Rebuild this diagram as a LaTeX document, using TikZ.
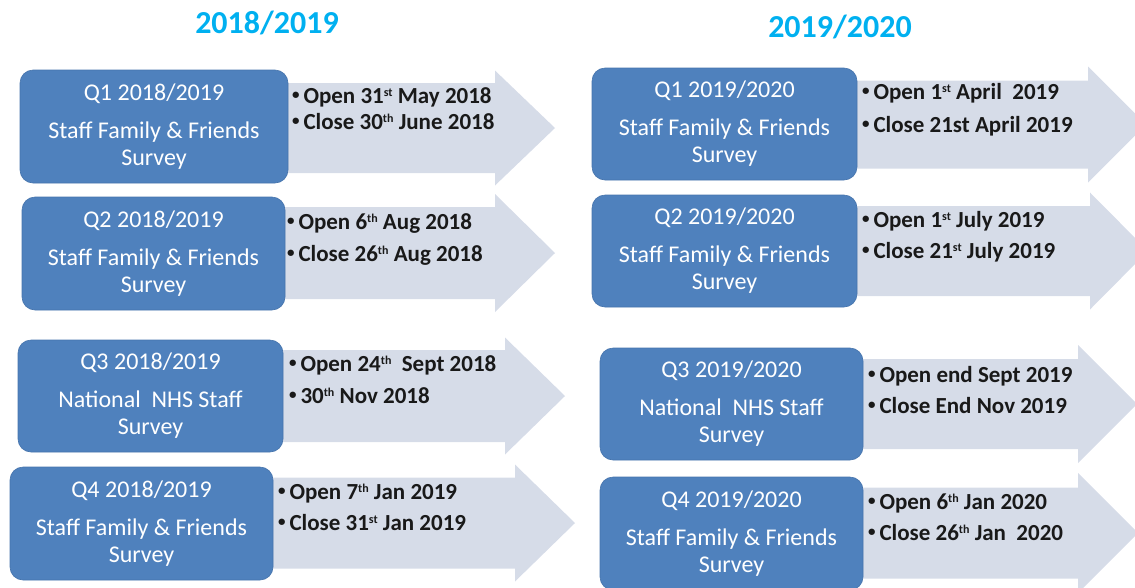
\documentclass[tikz,border=0pt]{standalone}
\usepackage{fontspec}
\setmainfont{Carlito}
\definecolor{boxblue}{RGB}{79,129,189}
\definecolor{boxedge}{RGB}{70,116,172}
\definecolor{arrowfill}{RGB}{214,220,232}
\definecolor{titlecyan}{RGB}{0,176,240}
\definecolor{datecol}{RGB}{25,25,25}

% block arrow: start x, centre y, body half height, head start x, head half height, tip x
\newcommand\blockarrow[6]{%
  \fill[arrowfill] (#1,#2-#3) -- (#4,#2-#3) -- (#4,#2-#5) -- (#6,#2)
    -- (#4,#2+#5) -- (#4,#2+#3) -- (#1,#2+#3) -- cycle;}
% small raised ordinal suffix
\newcommand\ordsup[1]{\raisebox{0.62ex}{\fontsize{12}{12}\selectfont #1}}
% small list bullet
\newcommand\smallbullet{\raisebox{0.28ex}{\fontsize{15}{15}\selectfont •}\,}

\begin{document}
\begin{tikzpicture}[x=1pt,y=-1pt,
  qbox/.style={fill=boxblue, draw=boxedge, line width=0.6pt, rounded corners=13pt,
    text=white, align=center, inner sep=0pt,
    font=\fontsize{24}{27}\selectfont},
  datetext/.style={anchor=base west, inner sep=0pt, text=datecol,
    font=\fontsize{23}{27}\selectfont\bfseries},
  yeartitle/.style={text=titlecyan, inner sep=0pt,
    font=\fontsize{32}{36}\selectfont\bfseries}]
\useasboundingbox (0,0) rectangle (1135,587);
\clip (0,0) rectangle (1135,587);

% column titles
\node[yeartitle] (t1) at (267,23) {2018/2019};
\node[yeartitle] (t2) at (840,27) {2019/2020};

% arrows behind the quarter boxes
\blockarrow{270}{128}{45}{495}{57.5}{555}
\blockarrow{270}{253}{46}{495}{59}{555}
\blockarrow{270}{396}{46}{505}{58.5}{565}
\blockarrow{260}{523}{45.5}{515}{58.5}{575}
\blockarrow{840}{124.5}{44}{1088}{58}{1146}
\blockarrow{840}{251}{45}{1090}{58.5}{1148}
\blockarrow{845}{404}{45}{1078}{59}{1137}
\blockarrow{845}{533}{45.5}{1078}{60}{1138}

% 2018/2019 quarters
\node[qbox, minimum width=268pt, minimum height=113pt] (l1) at (154,126.5)
  {Q1 2018/2019\\[11pt]Staff Family \& Friends\\Survey};
\node[qbox, minimum width=263pt, minimum height=113pt] (l2) at (153.5,253.5)
  {Q2 2018/2019\\[11pt]Staff Family \& Friends\\Survey};
\node[qbox, minimum width=265pt, minimum height=112pt] (l3) at (150.5,396)
  {Q3 2018/2019\\[11pt]National\ \ NHS Staff\\Survey};
\node[qbox, minimum width=263pt, minimum height=113pt] (l4) at (141.5,523.5)
  {Q4 2018/2019\\[11pt]Staff Family \& Friends\\Survey};

% 2019/2020 quarters
\node[qbox, minimum width=265pt, minimum height=112pt] (r1) at (724.5,124)
  {Q1 2019/2020\\[11pt]Staff Family \& Friends\\Survey};
\node[qbox, minimum width=265pt, minimum height=112pt] (r2) at (724.5,251)
  {Q2 2019/2020\\[11pt]Staff Family \& Friends\\Survey};
\node[qbox, minimum width=263pt, minimum height=112pt] (r3) at (731.5,404)
  {Q3 2019/2020\\[11pt]National\ \ NHS Staff\\Survey};
\node[qbox, minimum width=263pt, minimum height=113pt] (r4) at (731.5,533.5)
  {Q4 2019/2020\\[11pt]Staff Family \& Friends\\Survey};

% opening and closing dates
\node[datetext] (l1a) at (292,103) {\smallbullet Open 31\ordsup{st} May 2018};
\node[datetext] (l1b) at (292,129) {\smallbullet Close 30\ordsup{th} June 2018};
\node[datetext] (l2a) at (287,229) {\smallbullet Open 6\ordsup{th} Aug 2018};
\node[datetext] (l2b) at (287,261) {\smallbullet Close 26\ordsup{th} Aug 2018};
\node[datetext] (l3a) at (289,371) {\smallbullet Open 24\ordsup{th}\ \ Sept 2018};
\node[datetext] (l3b) at (289,403) {\smallbullet 30\ordsup{th} Nov 2018};
\node[datetext] (l4a) at (278,499) {\smallbullet Open 7\ordsup{th} Jan 2019};
\node[datetext] (l4b) at (278,530) {\smallbullet Close 31\ordsup{st} Jan 2019};

\node[datetext] (r1a) at (862,99) {\smallbullet Open 1\ordsup{st} April\ \ 2019};
\node[datetext] (r1b) at (862,132) {\smallbullet Close 21st April 2019};
\node[datetext] (r2a) at (862,227) {\smallbullet Open 1\ordsup{st} July 2019};
\node[datetext] (r2b) at (862,258) {\smallbullet Close 21\ordsup{st} July 2019};
\node[datetext] (r3a) at (868,382) {\smallbullet Open end Sept 2019};
\node[datetext] (r3b) at (868,413) {\smallbullet Close End Nov 2019};
\node[datetext] (r4a) at (868,509) {\smallbullet Open 6\ordsup{th} Jan 2020};
\node[datetext] (r4b) at (868,540) {\smallbullet Close 26\ordsup{th} Jan\ \ 2020};
\end{tikzpicture}
\end{document}
